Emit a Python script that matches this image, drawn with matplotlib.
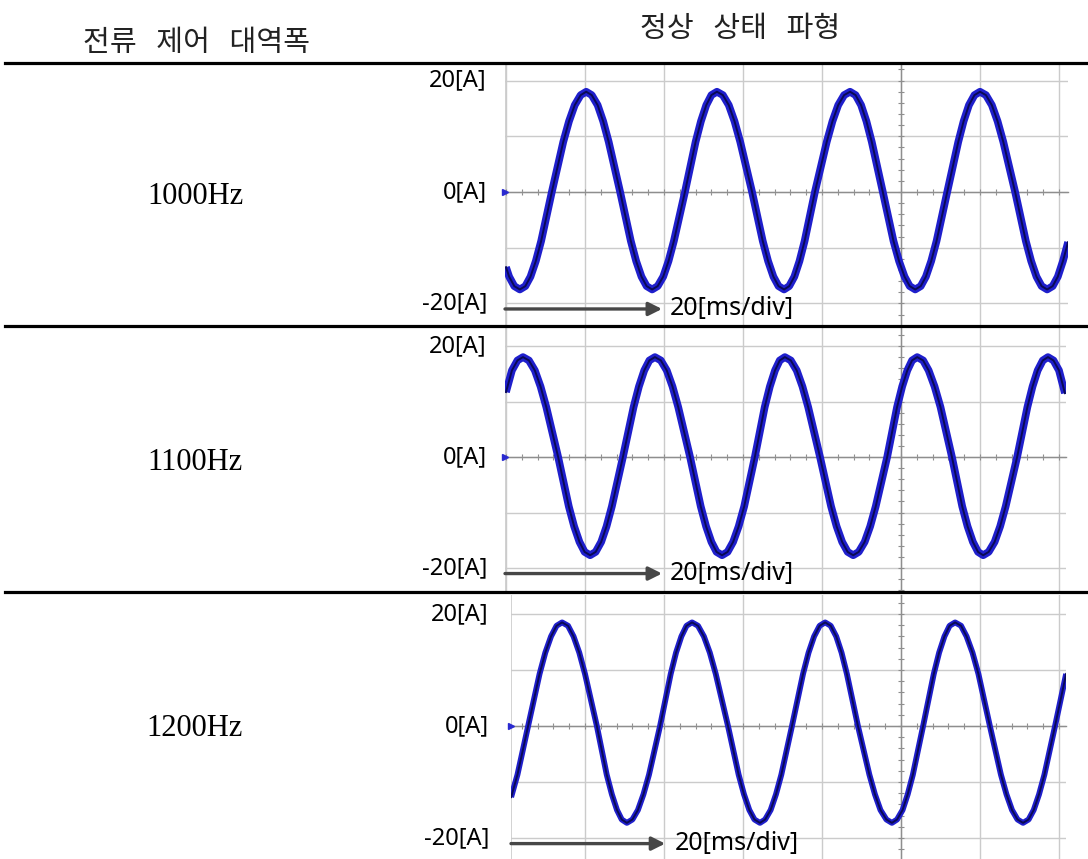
import matplotlib
matplotlib.use('Agg')
import matplotlib.pyplot as plt
from matplotlib.lines import Line2D
from matplotlib.ticker import MultipleLocator
import matplotlib.transforms as mtransforms

W, H, DPI = 1088, 859, 100

# ---------------- data ----------------
header_left = '전류   제어   대역폭'
header_right = '정상   상태   파형'
bandwidth_labels = ['1000Hz', '1100Hz', '1200Hz']
y_tick_values = [20, 0, -20]
y_tick_labels = ['20[A]', '0[A]', '-20[A]']
time_div_label = '20[ms/div]'
time_div_ms = 20      # ms per horizontal division
amp_div_A = 10        # A per vertical division

# 1000 Hz: time [ms], current [A]
t1 = [0.0, 0.8, 2.1, 3.5, 4.9, 6.2, 7.55, 8.9, 11.6, 14.5, 15.95, 17.4, 18.9, 20.3, 21.7, 23.2,
      24.6, 26.0, 28.9, 31.6, 32.95, 34.3, 35.6, 37.0, 38.4, 39.8, 41.15, 42.5, 45.3, 48.0,
      49.35, 50.7, 52.0, 53.4, 54.9, 56.4, 57.85, 59.3, 62.3, 65.0, 66.35, 67.7, 69.0, 70.4,
      71.7, 73.0, 74.3, 75.6, 78.2, 81.2, 82.65, 84.1, 85.6, 87.1, 88.5, 89.9, 91.25, 92.6,
      95.4, 98.1, 99.5, 100.9, 102.2, 103.6, 105.0, 106.3, 107.65, 109.0, 111.7, 114.5,
      115.85, 117.2, 118.6, 120.0, 121.5, 123.0, 124.45, 125.9, 128.9, 131.6, 132.95, 134.3,
      135.6, 137.0, 138.4, 139.7, 141.0, 142.3]
i1 = [-13.5, -15.2, -16.9, -17.5, -16.9, -15.2, -12.4, -8.8, 0, 9, 12.7, 15.6, 17.4, 18, 17.4, 15.6,
      12.7, 9, 0, -8.8, -12.4, -15.2, -16.9, -17.5, -16.9, -15.2, -12.4, -8.8, 0, 9,
      12.7, 15.6, 17.4, 18, 17.4, 15.6, 12.7, 9, 0, -8.8, -12.4, -15.2, -16.9, -17.5,
      -16.9, -15.2, -12.4, -8.8, 0, 9, 12.7, 15.6, 17.4, 18, 17.4, 15.6, 12.7, 9,
      0, -8.8, -12.4, -15.2, -16.9, -17.5, -16.9, -15.2, -12.4, -8.8, 0, 9,
      12.7, 15.6, 17.4, 18, 17.4, 15.6, 12.7, 9, 0, -8.8, -12.4, -15.2,
      -16.9, -17.5, -16.9, -15.2, -12.4, -9.0]

# 1100 Hz
t2 = [0.0, 1.5, 2.9, 4.3, 5.8, 7.3, 8.75, 10.2, 13.2, 15.9, 17.25, 18.6, 19.9, 21.3, 22.7, 24.1,
      25.45, 26.8, 29.6, 32.3, 33.65, 35.0, 36.3, 37.7, 39.2, 40.7, 42.15, 43.6, 46.6, 49.3,
      50.65, 52.0, 53.3, 54.7, 56.1, 57.5, 58.9, 60.3, 63.0, 65.5, 66.8, 68.1, 69.3, 70.6,
      72.1, 73.6, 75.05, 76.5, 79.5, 82.3, 83.7, 85.1, 86.5, 87.9, 89.3, 90.8, 92.2, 93.6,
      96.5, 99.0, 100.3, 101.6, 102.8, 104.1, 105.6, 107.0, 108.5, 110.0, 112.9, 115.5,
      116.85, 118.2, 119.5, 120.8, 122.2, 123.7, 125.1, 126.5, 129.4, 132.0, 133.3, 134.6,
      135.9, 137.2, 138.6, 140.0, 141.5]
i2 = [11.7, 15.6, 17.4, 18, 17.4, 15.6, 12.7, 9, 0, -8.9, -12.5, -15.3, -17.1, -17.7, -17.1, -15.3,
      -12.5, -8.9, 0, 9, 12.7, 15.6, 17.4, 18, 17.4, 15.6, 12.7, 9, 0, -8.9,
      -12.5, -15.3, -17.1, -17.7, -17.1, -15.3, -12.5, -8.9, 0, 9, 12.7, 15.6, 17.4, 18,
      17.4, 15.6, 12.7, 9, 0, -8.9, -12.5, -15.3, -17.1, -17.7, -17.1, -15.3, -12.5, -8.9,
      0, 9, 12.7, 15.6, 17.4, 18, 17.4, 15.6, 12.7, 9, 0, -8.9,
      -12.5, -15.3, -17.1, -17.7, -17.1, -15.3, -12.5, -8.9, 0, 9, 12.7, 15.6,
      17.4, 18, 17.4, 15.6, 11.5]

# 1200 Hz
t3 = [1.3, 2.9, 5.6, 8.5, 9.95, 11.4, 12.8, 14.2, 15.7, 17.1, 18.55, 20.0, 23.0, 25.5, 26.8, 28.1,
      29.3, 30.6, 32.0, 33.4, 34.8, 36.2, 39.0, 41.7, 43.05, 44.4, 45.7, 47.1, 48.6, 50.1,
      51.6, 53.1, 56.2, 58.9, 60.25, 61.6, 62.9, 64.3, 65.6, 67.0, 68.35, 69.7, 72.4, 75.2,
      76.6, 78.0, 79.4, 80.8, 82.2, 83.6, 84.95, 86.3, 89.1, 92.0, 93.4, 94.8, 96.3, 97.7,
      99.0, 100.4, 101.7, 103.0, 105.6, 108.3, 109.65, 111.0, 112.3, 113.7, 115.2, 116.6,
      118.1, 119.6, 122.5, 125.3, 126.7, 128.1, 129.5, 130.9, 132.3, 133.6, 134.95, 136.3,
      139.0, 141.8]
i3 = [-12.7, -8.7, 0, 9.3, 13.1, 16.0, 17.9, 18.5, 17.9, 16.0, 13.1, 9.3, 0, -8.7, -12.2, -15.0,
      -16.7, -17.3, -16.7, -15.0, -12.2, -8.7, 0, 9.3, 13.1, 16.0, 17.9, 18.5, 17.9, 16.0,
      13.1, 9.3, 0, -8.7, -12.2, -15.0, -16.7, -17.3, -16.7, -15.0, -12.2, -8.7, 0, 9.3,
      13.1, 16.0, 17.9, 18.5, 17.9, 16.0, 13.1, 9.3, 0, -8.7, -12.2, -15.0, -16.7, -17.3,
      -16.7, -15.0, -12.2, -8.7, 0, 9.3, 13.1, 16.0, 17.9, 18.5, 17.9, 16.0,
      13.1, 9.3, 0, -8.7, -12.2, -15.0, -16.7, -17.3, -16.7, -15.0, -12.2, -8.7,
      0, 9.3]

series = [(t1, i1), (t2, i2), (t3, i3)]

# ---------------- layout (pixels) ----------------
origin_px = 506      # pixel column of 0 ms
xdiv_px = 79         # pixels per horizontal division
rows = [
    dict(left=505, right=1068, top=64, bottom=325, zero=192, ydiv=55.7, lab_r=487, mid=196,
         sep=63, arrow_end=39.5, text_x=41.5, band=5.5),
    dict(left=505, right=1066, top=328, bottom=591, zero=457, ydiv=55.5, lab_r=487, mid=462,
         sep=326, arrow_end=39.5, text_x=41.5, band=5.5),
    dict(left=511, right=1066, top=595, bottom=859, zero=726, ydiv=56.0, lab_r=489, mid=728,
         sep=592, arrow_end=40.3, text_x=42.8, band=4.2),
]

fig = plt.figure(figsize=(W / DPI, H / DPI), dpi=DPI)
fig.patch.set_facecolor('white')

GRID = '#cbcbcb'
CENTER = '#8e8e8e'
BAND = '#1f1fcc'
CORE = '#0a0a55'

for (t, cur), lab, r in zip(series, bandwidth_labels, rows):
    ax = fig.add_axes([r['left'] / W, 1 - r['bottom'] / H,
                       (r['right'] - r['left']) / W, (r['bottom'] - r['top']) / H])
    x0 = (r['left'] - origin_px) * time_div_ms / xdiv_px
    x1 = (r['right'] - origin_px) * time_div_ms / xdiv_px
    y0 = (r['zero'] - r['bottom']) / r['ydiv'] * amp_div_A
    y1 = (r['zero'] - r['top']) / r['ydiv'] * amp_div_A
    ax.set_xlim(x0, x1)
    ax.set_ylim(y0, y1)
    ax.set_facecolor('white')

    ax.xaxis.set_major_locator(MultipleLocator(time_div_ms))
    ax.xaxis.set_minor_locator(MultipleLocator(time_div_ms / 5))
    ax.yaxis.set_major_locator(MultipleLocator(amp_div_A))
    ax.yaxis.set_minor_locator(MultipleLocator(amp_div_A / 5))
    ax.grid(True, which='major', color=GRID, lw=1.0)
    ax.set_axisbelow(True)

    for s in ('top', 'right'):
        ax.spines[s].set_visible(False)
    ax.spines['left'].set_position(('data', 5 * time_div_ms))
    ax.spines['bottom'].set_position(('data', 0))
    for s in ('left', 'bottom'):
        ax.spines[s].set_color(CENTER)
        ax.spines[s].set_linewidth(1.0)
    ax.tick_params(which='both', direction='inout', length=5, width=0.8, color=CENTER,
                   labelbottom=False, labelleft=False)

    # left border of the scope screen
    ax.axvline(x0, color=GRID, lw=1.2, zorder=0.5)

    # waveform
    ax.plot(t, cur, color=BAND, lw=r['band'], solid_joinstyle='round', solid_capstyle='butt',
            zorder=3)
    ax.plot(t, cur, color=CORE, lw=1.4, solid_joinstyle='round', zorder=4)

    # channel ground marker
    ax.plot([x0], [0], marker='>', ms=4, color='#2a2ad0', clip_on=False, zorder=5)

    # time-base arrow
    ax.annotate('', xy=(r['arrow_end'], -21), xytext=(x0, -21),
                arrowprops=dict(arrowstyle='-|>', color='#474747', lw=2.4, mutation_scale=20,
                                shrinkA=0, shrinkB=0),
                annotation_clip=False, zorder=6)
    ax.text(r['text_x'], -21, time_div_label, ha='left', va='center', fontsize=18,
            family='Noto Sans', color='black', zorder=7)

    # amplitude labels
    trans = mtransforms.blended_transform_factory(fig.transFigure, ax.transData)
    for v, tl in zip(y_tick_values, y_tick_labels):
        ax.text(r['lab_r'] / W, v, tl, transform=trans, ha='right', va='center',
                fontsize=17, family='Noto Sans', color='black')

    # row label
    fig.text(195 / W, 1 - r['mid'] / H, lab, ha='center', va='center', fontsize=22,
             family='Liberation Serif', color='black')

    # table separator
    fig.add_artist(Line2D([5 / W, 1.0], [1 - r['sep'] / H] * 2, transform=fig.transFigure,
                          color='black', lw=2.3))

fig.text(197 / W, 1 - 43 / H, header_left, ha='center', va='center', fontsize=21,
         family=['Noto Sans CJK KR', 'DejaVu Sans'], color='#222222')
fig.text(740 / W, 1 - 29 / H, header_right, ha='center', va='center', fontsize=21,
         family=['Noto Sans CJK KR', 'DejaVu Sans'], color='#222222')

fig.savefig('out.png', dpi=DPI, facecolor='white')
